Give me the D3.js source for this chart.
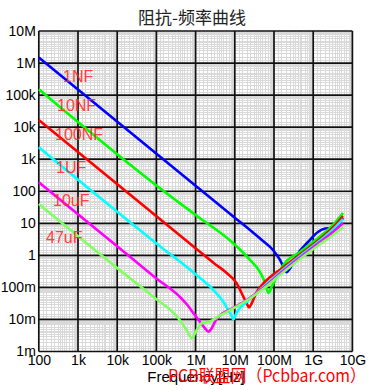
<!DOCTYPE html>
<html><head><meta charset="utf-8">
<script src="https://cdn.jsdelivr.net/npm/d3@7"></script>
<style>html,body{margin:0;padding:0;background:#fff;}svg{display:block;}</style>
</head><body>
<script>
// ---- data ----
const freqTicks = [1e2,1e3,1e4,1e5,1e6,1e7,1e8,1e9,1e10];
const freqLabels = ["100","1k","10k","100k","1M","10M","100M","1G","10G"];
const zTicks = [1e7,1e6,1e5,1e4,1e3,1e2,1e1,1,1e-1,1e-2,1e-3];
const zLabels = ["10M","1M","100k","10k","1k","100","10","1","100m","10m","1m"];

const seriesNames = ["1NF","10NF","100NF","1UF","10uF","47uF"];
const seriesColors = ["#0000ff","#00ff00","#ff0000","#00ffff","#ff00ff","#80ff60"];

const cap1nF = [[100,1.49e6],[1e6,149],[1e7,14.9],[2.44e7,6.18],[5.24e7,2.8],[9.42e7,1.47],[1.42e8,0.72],[1.75e8,0.43],[2.11e8,0.30],[2.56e8,0.39],[4.09e8,1.14],[7.36e8,2.61],[1.32e9,5.35],[2.0e9,6.9],[2.85e9,7.1],[3.82e9,8.2],[5.75e9,14.6]];
const cap10nF = [[100,1.52e5],[1e5,152],[1e6,18.2],[9.16e6,2.38],[2.44e7,0.72],[4.4e7,0.30],[5.89e7,0.142],[7.24e7,0.067],[8.64e7,0.103],[1.17e8,0.204],[1.7e8,0.482],[4.6e8,1.27],[1.28e9,3.36],[3.2e9,8.85],[5.75e9,20.9]];
const cap100nF = [[100,1.67e4],[1e6,1.67],[3e6,0.557],[6.21e6,0.281],[1.12e7,0.134],[1.5e7,0.0655],[2.01e7,0.0319],[2.3e7,0.0236],[2.7e7,0.0319],[3.62e7,0.0719],[5.24e7,0.128],[1.7e8,0.418],[4.6e8,1.06],[1.28e9,2.8],[3.2e9,7.4],[5.75e9,16.9]];
const cap1uF = [[100,2350],[1e5,2.35],[1.07e6,0.24],[2.83e6,0.083],[5.09e6,0.0358],[6.82e6,0.0197],[8.34e6,0.0128],[9.16e6,0.00995],[1.05e7,0.0138],[1.23e7,0.0197],[1.53e7,0.0263],[2.01e7,0.035],[5.24e7,0.103],[1.7e8,0.362],[4.6e8,0.955],[1.28e9,2.52],[3.2e9,6.41],[5.75e9,13.6]];
const cap10uF = [[100,190],[2.58e4,0.738],[1.02e5,0.187],[4.0e5,0.0501],[6.04e5,0.0292],[8.73e5,0.0159],[1.29e6,0.00851],[1.74e6,0.0053],[2.11e6,0.00415],[2.58e6,0.0053],[3.13e6,0.00851],[3.73e6,0.0115],[9.16e6,0.0228],[2.01e7,0.0405],[5.24e7,0.0958],[1.7e8,0.325],[4.6e8,0.857],[1.28e9,2.26],[3.2e9,5.35],[5.75e9,10.2]];
const cap47uF = [[100,40],[1.18e4,0.34],[8.34e4,0.0513],[3.62e5,0.0109],[5.93e5,0.00469],[7.96e5,0.00258],[1.07e6,0.00469],[1.43e6,0.00759],[2.33e6,0.00863],[4.19e6,0.0133],[9.16e6,0.0223],[2.01e7,0.039],[5.24e7,0.0891],[1.7e8,0.292],[4.6e8,0.769],[1.28e9,1.96],[3.2e9,4.32],[5.75e9,7.67]];

const labelPos = [[63,82],[57,111],[55,140],[56,173],[53,206],[46,243]];

// ---- chart ----
const W = 371, H = 390;
const svg = d3.select("body").append("svg").attr("width", W).attr("height", H);
const x = d3.scaleLog().domain([1e2,1e10]).range([38.8,352.4]);
const y = d3.scaleLog().domain([1e-3,1e7]).range([351.5,31]);

svg.append("rect").attr("x",x(1e2)).attr("y",y(1e7)).attr("width",x(1e10)-x(1e2)).attr("height",y(1e-3)-y(1e7)).attr("fill","#fff");

// minor grid
const mult = [1.25,1.5,2,2.5,3,3.5,4,4.5,5,6,7,8,8.5,9,9.5];
const gMinor = svg.append("g").attr("stroke","#d9d9d9").attr("stroke-width",1);
freqTicks.slice(0,-1).forEach(d => mult.forEach(m => {
  const xv = Math.round(x(d*m)) + 0.5;
  gMinor.append("line").attr("x1",xv).attr("x2",xv).attr("y1",y(1e7)).attr("y2",y(1e-3));
}));
zTicks.slice(1).forEach(d => mult.forEach(m => {
  const yv = Math.round(y(d*m)) + 0.5;
  gMinor.append("line").attr("y1",yv).attr("y2",yv).attr("x1",x(1e2)).attr("x2",x(1e10));
}));
// major grid
const gMajor = svg.append("g").attr("stroke","#111").attr("stroke-width",1.7);
freqTicks.forEach(d => gMajor.append("line").attr("x1",x(d)).attr("x2",x(d)).attr("y1",y(1e7)).attr("y2",y(1e-3)));
zTicks.forEach(d => gMajor.append("line").attr("y1",y(d)).attr("y2",y(d)).attr("x1",x(1e2)).attr("x2",x(1e10)));

// axes labels
const xAxis = d3.axisBottom(x).tickValues(freqTicks).tickFormat((d,i)=>freqLabels[i]).tickSize(0).tickPadding(4);
const gx = svg.append("g").attr("transform",`translate(0,${y(1e-3)})`).call(xAxis);
gx.select(".domain").remove();
gx.selectAll("text").attr("font-family","Liberation Sans, Arial, sans-serif").attr("font-size",14).attr("fill","#000");
const yAxis = d3.axisLeft(y).tickValues(zTicks).tickFormat((d,i)=>zLabels[i]).tickSize(0).tickPadding(3);
const gy = svg.append("g").attr("transform",`translate(${x(1e2)},0)`).call(yAxis);
gy.select(".domain").remove();
gy.selectAll("text").attr("font-family","Liberation Sans, Arial, sans-serif").attr("font-size",14).attr("fill","#000");

// curves
const line = d3.line().x(d=>x(d[0])).y(d=>y(d[1])).curve(d3.curveMonotoneX);
const allSeries = [cap1nF,cap10nF,cap100nF,cap1uF,cap10uF,cap47uF];
allSeries.forEach((s,i)=>{
  svg.append("path").datum(s).attr("d",line).attr("fill","none")
    .attr("stroke",seriesColors[i]).attr("stroke-width",2.6).attr("stroke-linejoin","round");
});

// series labels
seriesNames.forEach((n,i)=>{
  svg.append("text").attr("x",labelPos[i][0]).attr("y",labelPos[i][1]).text(n)
    .attr("font-family","Liberation Sans, Arial, sans-serif").attr("font-size",16)
    .attr("fill","#ff2a2a").attr("fill-opacity",0.9);
});

// title
svg.append("text").attr("x",192).attr("y",24).attr("text-anchor","middle").text("阻抗-频率曲线")
  .attr("font-family","Noto Sans CJK SC, sans-serif").attr("font-size",17).attr("fill","#222");
// x axis title
svg.append("text").attr("x",196).attr("y",382).attr("text-anchor","middle").text("Frequency[Hz]")
  .attr("font-family","Liberation Sans, Arial, sans-serif").attr("font-size",15).attr("fill","#000");
// watermark
svg.append("text").attr("x",168).attr("y",382).text("PCB联盟网（Pcbbar.com）")
  .attr("textLength",198).attr("lengthAdjust","spacingAndGlyphs")
  .attr("font-family","Noto Sans CJK SC, sans-serif").attr("font-size",17).attr("fill","#ff0000");
</script>
</body></html>
